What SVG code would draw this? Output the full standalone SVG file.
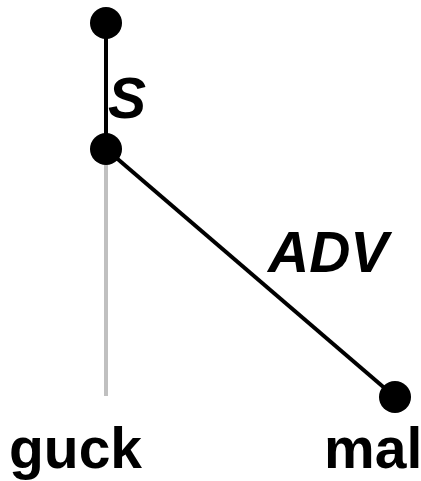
<svg xmlns="http://www.w3.org/2000/svg" width="421" height="481" viewBox="0 0 421 481">
<style>
.edge{stroke:#000;stroke-width:4;fill:none}
.proj{stroke:#c0c0c0;stroke-width:4;fill:none}
.node{fill:#000}
.lbl{font-family:"Liberation Sans",Arial,sans-serif;font-weight:bold;font-style:italic;font-size:57px;fill:#000}
.word{font-family:"Liberation Sans",Arial,sans-serif;font-weight:bold;font-size:57px;fill:#000}
</style>
<rect width="421" height="481" fill="#fff"/>
<g id="connectors">
<line class="proj" x1="106" y1="149" x2="106" y2="396"/>
<line class="edge" x1="106" y1="23" x2="106" y2="149"/>
<line class="edge" x1="106" y1="149" x2="395" y2="397"/>
<text class="lbl" x="108" y="118">S</text>
<text class="lbl" x="268" y="272">ADV</text>
</g>
<g id="n1"><circle class="node" cx="106" cy="23" r="16"/></g>
<g id="n2"><circle class="node" cx="106" cy="149" r="16"/></g>
<g id="n3"><circle class="node" cx="395" cy="397" r="16"/></g>
<g id="w1"><text class="word" x="9" y="468">guck</text></g>
<g id="w2"><text class="word" x="324" y="468">mal</text></g>
</svg>
